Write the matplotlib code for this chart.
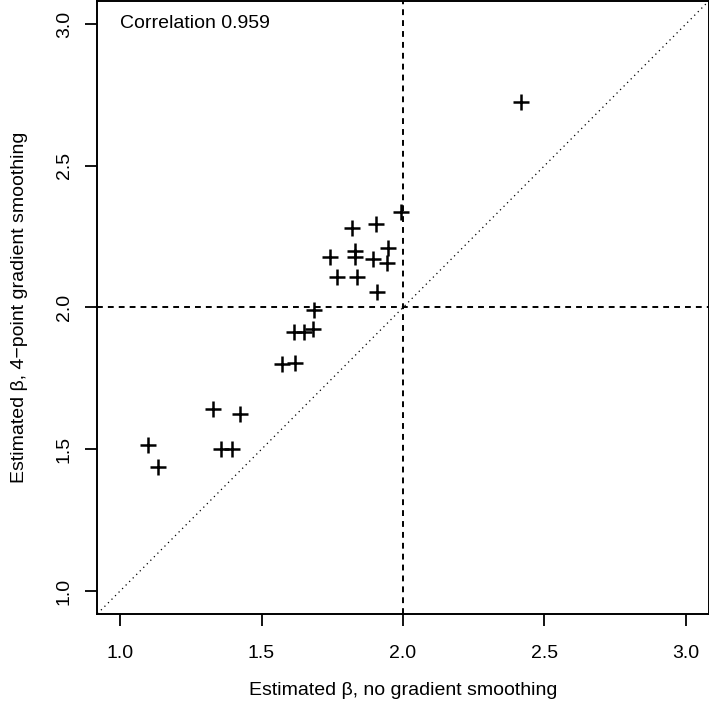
import matplotlib
matplotlib.use("Agg")
import matplotlib.pyplot as plt

plt.rcParams['font.family'] = ['Liberation Sans', 'DejaVu Sans']

# estimated beta values
beta_no_smooth = [2.416, 1.993, 1.820, 1.905, 1.743, 1.830, 1.830, 1.895, 1.948,
                  1.944, 1.766, 1.838, 1.907, 1.686, 1.616, 1.651, 1.681, 1.572,
                  1.618, 1.329, 1.425, 1.100, 1.135, 1.357, 1.395]
beta_4pt_smooth = [2.724, 2.337, 2.282, 2.293, 2.179, 2.201, 2.179, 2.172, 2.211,
                   2.157, 2.109, 2.109, 2.054, 1.991, 1.915, 1.915, 1.925, 1.801,
                   1.804, 1.641, 1.625, 1.515, 1.438, 1.500, 1.500]
ticks = [1.0, 1.5, 2.0, 2.5, 3.0]
corr_text = "Correlation 0.959"

fig = plt.figure(figsize=(7.09, 7.09), dpi=100)
ax = fig.add_axes([0.1374, 0.1344, 0.862, 0.8638])

# R style limits: c(1, 3) padded by 4%
lo, hi = 1 - 0.08, 3 + 0.08
ax.set_xlim(lo, hi)
ax.set_ylim(lo, hi)

ax.plot([lo, hi], [lo, hi], color='black', lw=0.9, linestyle=(0, (1, 3)))
ax.axvline(2.0, color='black', lw=1.4, linestyle=(0, (3, 2.6)))
ax.axhline(2.0, color='black', lw=1.4, linestyle=(0, (3, 2.6)))

ax.plot(beta_no_smooth, beta_4pt_smooth, linestyle='none', marker='+',
        color='black', markersize=11.5, markeredgewidth=1.8)

ax.text(1.0, 3.0, corr_text, ha='left', va='center', fontsize=14)

ax.set_xticks(ticks)
ax.set_yticks(ticks)
ax.set_xticklabels([f"{t:.1f}" for t in ticks])
ax.set_yticklabels([f"{t:.1f}" for t in ticks], rotation=90, va='center')
ax.tick_params(direction='out', length=8.6, width=1.3, labelsize=14)
ax.tick_params(axis='x', pad=14)
ax.tick_params(axis='y', pad=9)

for s in ax.spines.values():
    s.set_linewidth(1.4)

ax.set_xlabel("Estimated β, no gradient smoothing", fontsize=14, labelpad=14)
ax.set_ylabel("Estimated β, 4\u2212point gradient smoothing", fontsize=14, labelpad=20)

fig.savefig("out.png", dpi=100)
